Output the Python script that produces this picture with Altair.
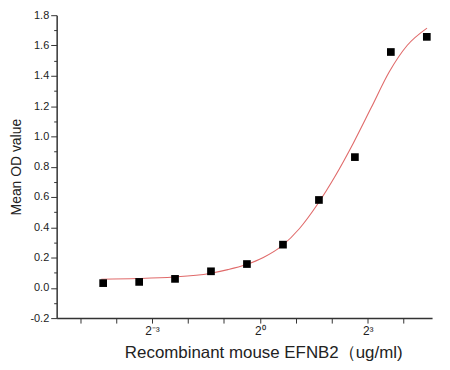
import altair as alt
import pandas as pd

# measured points
conc = [0.0488, 0.0977, 0.195, 0.39, 0.78, 1.5625, 3.125, 6.25, 12.5, 25.0]
od = [0.031, 0.039, 0.059, 0.109, 0.157, 0.285, 0.58, 0.863, 1.557, 1.657]

# fitted curve
curve_x = [0.047, 0.095, 0.19, 0.38, 0.54, 0.76, 1.07, 1.52, 2.14, 3.03, 4.29, 6.06, 8.57, 12.1, 17.1, 25.1]
curve_y = [0.057, 0.061, 0.071, 0.095, 0.12, 0.152, 0.20, 0.275, 0.39, 0.55, 0.74, 0.955, 1.19, 1.425, 1.60, 1.715]

x_ticks = [2 ** k for k in range(-5, 5)]
y_ticks = [round(-0.2 + 0.1 * i, 1) for i in range(21)]

pts = pd.DataFrame({"x": conc, "y": od})
fit = pd.DataFrame({"x": curve_x, "y": curve_y})

font = "Liberation Sans"
xscale = alt.Scale(type="log", base=2, domain=[2 ** -5.65, 2 ** 4.79], nice=False)
yscale = alt.Scale(domain=[-0.2, 1.8], nice=False, zero=False)

xaxis = alt.Axis(
    values=x_ticks,
    labelExpr="datum.value == 0.125 ? '2⁻³' : datum.value == 1 ? '2⁰' : datum.value == 8 ? '2³' : ''",
    title="Recombinant mouse  EFNB2（ug/ml)",
    grid=False, tickSize=5, tickColor="#333", domainColor="#333", domainWidth=1.5,
    labelOverlap=False,
    labelFont=font, labelFontSize=12, labelColor="#222", labelPadding=3,
    titleFont=font, titleFontSize=17, titleFontWeight="normal", titleColor="#222", titlePadding=8,
    titleX=208,
)
yaxis = alt.Axis(
    values=y_ticks,
    labelExpr="round(datum.value*10) % 2 == 0 ? replace(format(datum.value, '.1f'), '\u2212', '-') : ''",
    tickSize={"condition": {"test": "round(datum.value*10) % 2 == 0", "value": 6}, "value": 3},
    title="Mean OD value",
    grid=False, tickColor="#333", domainColor="#333", domainWidth=1.5,
    labelOverlap=False,
    labelFont=font, labelFontSize=11, labelColor="#222", labelPadding=2,
    titleFont=font, titleFontSize=14, titleFontWeight="normal", titleColor="#222", titlePadding=6,
)

line = alt.Chart(fit).mark_line(color="#e06a6a", strokeWidth=1.1, interpolate="monotone").encode(
    x=alt.X("x:Q", scale=xscale, axis=xaxis),
    y=alt.Y("y:Q", scale=yscale, axis=yaxis),
)
dots = alt.Chart(pts).mark_point(shape="square", filled=True, color="black", opacity=1, size=60).encode(
    x=alt.X("x:Q", scale=xscale, axis=xaxis),
    y=alt.Y("y:Q", scale=yscale, axis=yaxis),
)

chart = (line + dots).properties(
    width=378, height=305,
    autosize=alt.AutoSizeParams(type="none"),
    padding={"left": 49, "top": 6, "right": 10, "bottom": 50},
    background="white",
).configure_view(stroke=None).configure_axis(labelOverlap=False)

chart.save("out.html", embed_options={"renderer": "svg", "actions": False})
